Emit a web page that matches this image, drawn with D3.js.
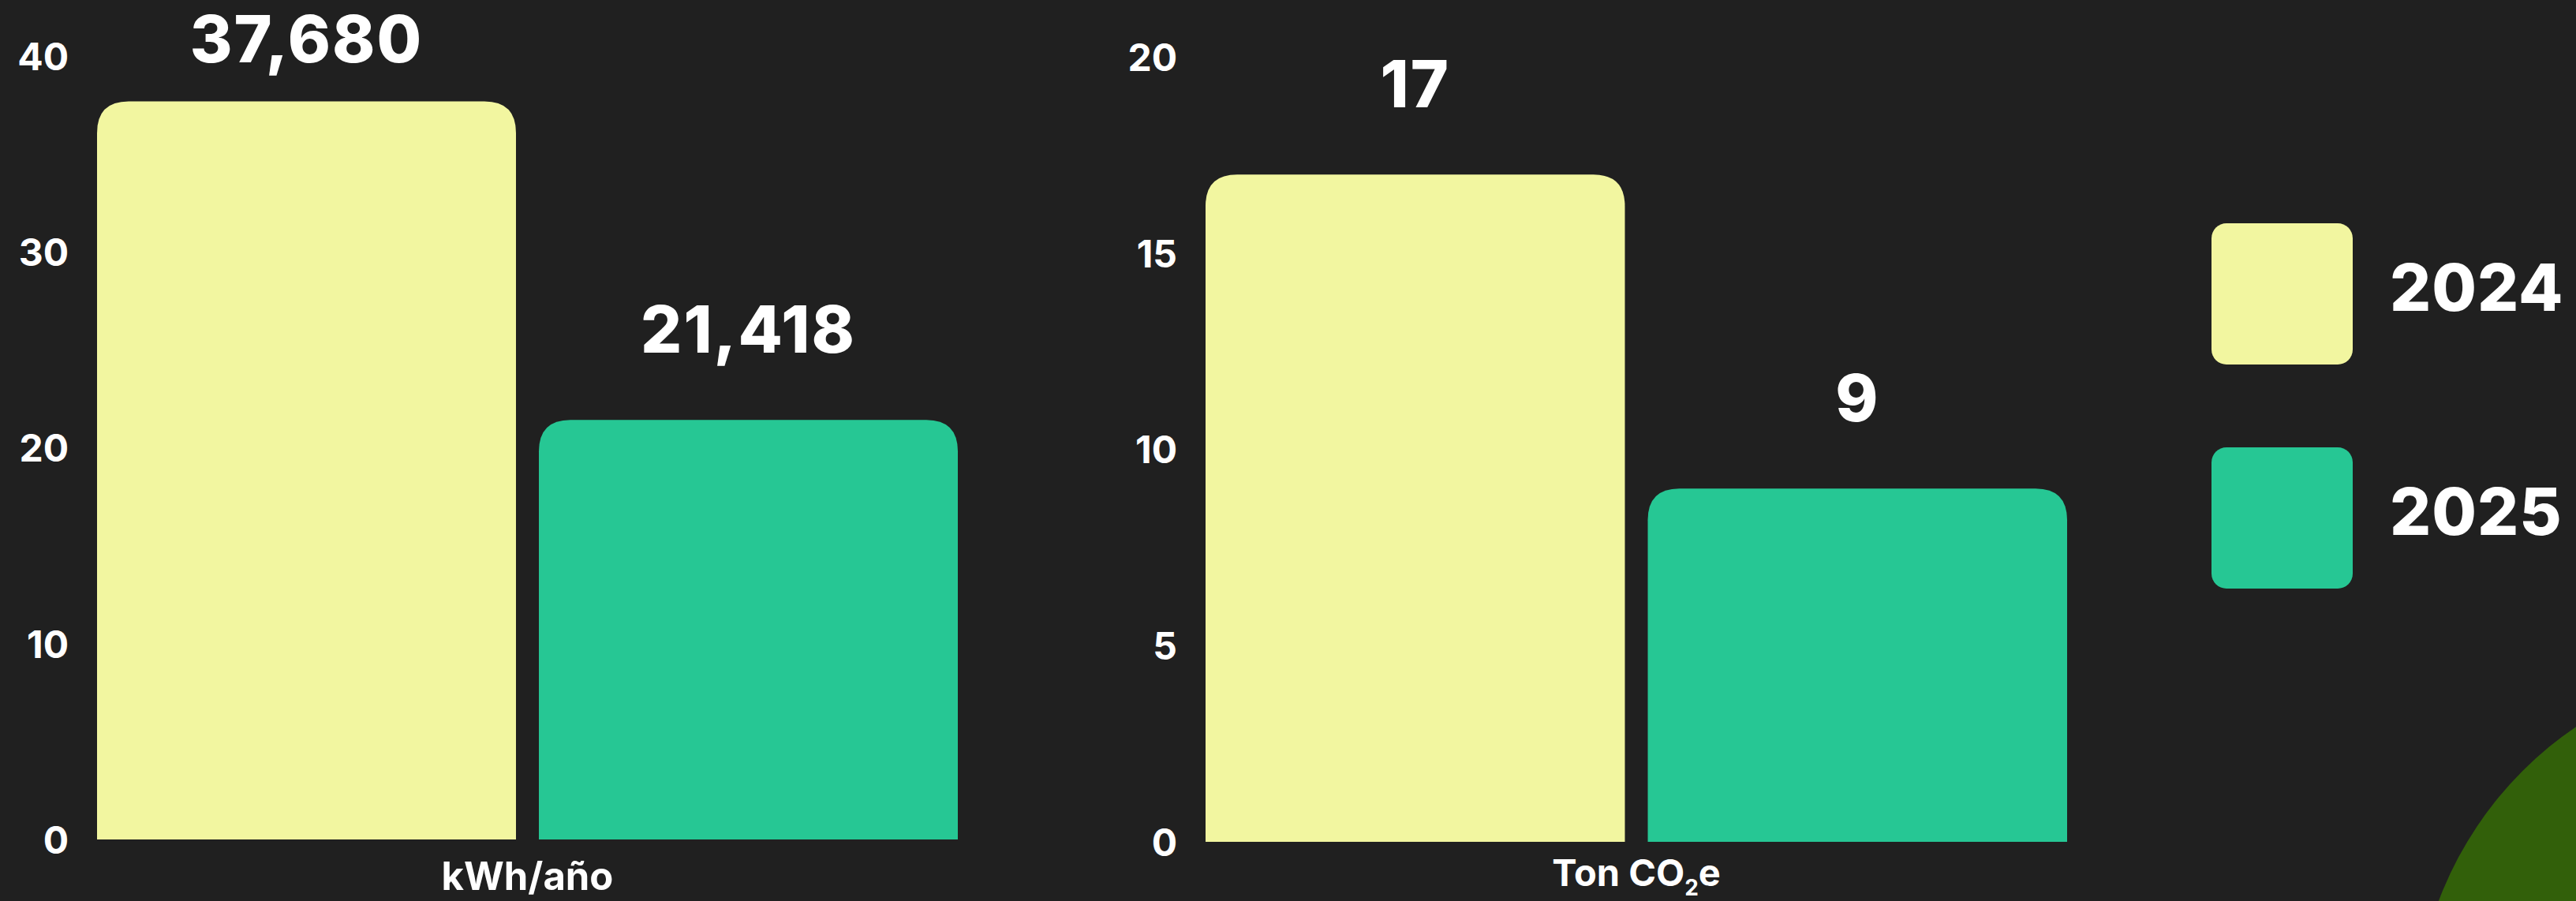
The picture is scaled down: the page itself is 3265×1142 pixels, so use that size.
<!DOCTYPE html>
<html>
<head>
<meta charset="utf-8">
<script src="https://cdn.jsdelivr.net/npm/d3@7"></script>
<style>
  html, body { margin: 0; padding: 0; background: #202020; }
  svg { display: block; }
  text { font-family: Inter, "Open Sans", sans-serif; fill: #ffffff; }
</style>
</head>
<body>
<svg id="chart" width="3265" height="1142"></svg>
<script>
// ---- data ----
const years = ["2024", "2025"];
const energyValues = [37680, 21418];          // kWh/año
const energyTicks = [0, 10000, 20000, 30000, 40000];
const energyTickLabels = ["0", "10", "20", "30", "40"];
const emissionValues = [17, 9];               // Ton CO2e
const emissionTicks = [0, 5, 10, 15, 20];
const emissionTickLabels = ["0", "5", "10", "15", "20"];
const seriesColors = ["#F2F6A0", "#26C794"];

// ---- layout ----
const W = 3265, H = 1142;
const svg = d3.select("#chart");
svg.append("rect").attr("width", W).attr("height", H).attr("fill", "#202020");

// decorative circle bottom-right
svg.append("circle").attr("cx", 3526).attr("cy", 1306).attr("r", 465).attr("fill", "#32600A");

const color = d3.scaleOrdinal().domain(years).range(seriesColors);

function topRoundedBar(x, y, w, h, r) {
  r = Math.min(r, w / 2, h);
  return `M${x},${y + h}V${y + r}Q${x},${y} ${x + r},${y}H${x + w - r}Q${x + w},${y} ${x + w},${y + r}V${y + h}Z`;
}

function panel(cfg) {
  const g = svg.append("g");
  const x = d3.scaleBand().domain(years).range(cfg.xRange).paddingInner(0.0518).paddingOuter(0);
  const y = d3.scaleLinear().domain(cfg.domain).range(cfg.yRange);

  const axis = d3.axisLeft(y).tickValues(cfg.ticks)
    .tickFormat((d, i) => cfg.tickLabels[i]).tickSize(0).tickPadding(0);
  const ag = g.append("g").attr("transform", `translate(${cfg.xRange[0] - 36},0)`).call(axis);
  ag.select(".domain").remove();
  ag.selectAll("text")
    .attr("fill", "#fff")
    .style("font-family", "Inter, sans-serif")
    .style("font-size", "48px").style("font-weight", "700")
    .attr("dy", "0.36em");

  g.selectAll("path.bar").data(cfg.values).join("path")
    .attr("class", "bar")
    .attr("fill", (d, i) => color(years[i]))
    .attr("d", (d, i) => topRoundedBar(x(years[i]), y(d), x.bandwidth(), y(0) - y(d), 40));

  g.selectAll("text.val").data(cfg.values).join("text")
    .attr("class", "val")
    .attr("x", (d, i) => x(years[i]) + x.bandwidth() / 2)
    .attr("y", d => Math.max(y(d) - 85, 79))
    .attr("text-anchor", "middle")
    .style("font-size", "82px").style("font-weight", "800")
    .style("letter-spacing", "2px")
    .text(d => cfg.fmt(d));

  const lbl = g.append("text")
    .attr("x", (cfg.xRange[0] + cfg.xRange[1]) / 2)
    .attr("y", y(0) + cfg.labelGap)
    .attr("text-anchor", "middle")
    .style("font-size", cfg.labelSize).style("font-weight", "700");
  cfg.label(lbl);
}

panel({
  xRange: [123, 1214], domain: [0, 40000], yRange: [1064, 71],
  ticks: energyTicks, tickLabels: energyTickLabels, values: energyValues,
  fmt: d3.format(","), labelGap: 64, labelSize: "49px",
  label: t => t.text("kWh/año")
});

panel({
  xRange: [1528, 2620], domain: [0, 20], yRange: [1067, 72],
  ticks: emissionTicks, tickLabels: emissionTickLabels, values: emissionValues,
  fmt: d3.format("d"), labelGap: 56, labelSize: "47px",
  label: t => {
    t.append("tspan").text("Ton CO");
    t.append("tspan").text("2").style("font-size", "28px").attr("dy", 12);
    t.append("tspan").text("e").attr("dy", -12);
  }
});

// ---- legend ----
const legend = svg.append("g").attr("transform", "translate(2803,283)");
const lg = legend.selectAll("g").data(years).join("g")
  .attr("transform", (d, i) => `translate(0,${i * 284})`);
lg.append("rect").attr("width", 179).attr("height", 179).attr("rx", 19).attr("ry", 19)
  .attr("fill", d => color(d));
lg.append("text").attr("x", 226).attr("y", 111)
  .style("font-size", "82px").style("font-weight", "800").style("letter-spacing", "1px")
  .text(d => d);
</script>
</body>
</html>
